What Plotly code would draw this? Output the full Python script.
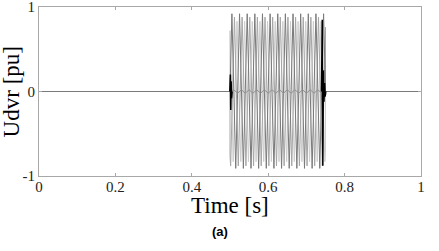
import plotly.graph_objects as go

# Phase A vertices (time [s], value [pu])
tA = [0, 0.5, 0.505, 0.515, 0.525, 0.535, 0.545, 0.555, 0.565, 0.575, 0.585,
      0.595, 0.605, 0.615, 0.625, 0.635, 0.645, 0.655, 0.665, 0.675, 0.685,
      0.695, 0.705, 0.715, 0.725, 0.735, 0.745, 0.75, 1]
vA = [0, 0, 0.92, -0.91, 0.92, -0.91, 0.92, -0.91, 0.92, -0.91, 0.92,
      -0.91, 0.92, -0.91, 0.92, -0.91, 0.92, -0.91, 0.92, -0.91, 0.92,
      -0.91, 0.92, -0.91, 0.92, -0.91, 0.92, 0, 0]

# Phase B vertices
tB = [0, 0.5, 0.5, 0.5017, 0.5117, 0.5217, 0.5317, 0.5417, 0.5517, 0.5617,
      0.5717, 0.5817, 0.5917, 0.6017, 0.6117, 0.6217, 0.6317, 0.6417, 0.6517,
      0.6617, 0.6717, 0.6817, 0.6917, 0.7017, 0.7117, 0.7217, 0.7317, 0.7417,
      0.75, 0.75, 1]
vB = [0, 0, -0.76, -0.88, 0.88, -0.88, 0.88, -0.88, 0.88, -0.88,
      0.88, -0.88, 0.88, -0.88, 0.88, -0.88, 0.88, -0.88, 0.88,
      -0.88, 0.88, -0.88, 0.88, -0.88, 0.88, -0.88, 0.88, -0.88,
      0.76, 0, 0]

# Phase C vertices
tC = [0, 0.5, 0.5, 0.5083, 0.5183, 0.5283, 0.5383, 0.5483, 0.5583, 0.5683,
      0.5783, 0.5883, 0.5983, 0.6083, 0.6183, 0.6283, 0.6383, 0.6483, 0.6583,
      0.6683, 0.6783, 0.6883, 0.6983, 0.7083, 0.7183, 0.7283, 0.7383, 0.7483,
      0.75, 0.75, 1]
vC = [0, 0, 0.72, -0.83, 0.83, -0.83, 0.83, -0.83, 0.83, -0.83,
      0.83, -0.83, 0.83, -0.83, 0.83, -0.83, 0.83, -0.83, 0.83,
      -0.83, 0.83, -0.83, 0.83, -0.83, 0.83, -0.83, 0.83, -0.83,
      -0.72, 0, 0]

# Small ripple around zero during compensation
tR = [0.5, 0.51, 0.52, 0.53, 0.54, 0.55, 0.56, 0.57, 0.58, 0.59, 0.6, 0.61,
      0.62, 0.63, 0.64, 0.65, 0.66, 0.67, 0.68, 0.69, 0.7, 0.71, 0.72, 0.73,
      0.74, 0.75]
vR = [0, 0.02, -0.02, 0.02, -0.02, 0.02, -0.02, 0.02, -0.02, 0.02, -0.02, 0.02,
      -0.02, 0.02, -0.02, 0.02, -0.02, 0.02, -0.02, 0.02, -0.02, 0.02, -0.02, 0.02,
      -0.02, 0]

# Switching transients (black)
tT1 = [0.4995, 0.501, 0.502, 0.503, 0.504, 0.5055]
vT1 = [0, 0.2, -0.22, 0.12, -0.08, 0]
tT2 = [0.7395, 0.7415, 0.743, 0.7445, 0.746, 0.7475, 0.749, 0.751]
vT2 = [0, 0.85, -0.88, 0.25, -0.12, 0.1, -0.06, 0]

x_ticks = [0, 0.2, 0.4, 0.6, 0.8, 1]
x_labels = ["0", "0.2", "0.4", "0.6", "0.8", "1"]
y_ticks = [-1, 0, 1]
y_labels = ["-1", "0", "1"]

fig = go.Figure()
fig.add_trace(go.Scatter(x=tC, y=vC, mode="lines", line=dict(color="#cdcdcd", width=1)))
fig.add_trace(go.Scatter(x=tB, y=vB, mode="lines", line=dict(color="#a6a6a6", width=1)))
fig.add_trace(go.Scatter(x=tA, y=vA, mode="lines", line=dict(color="#7a7a7a", width=1)))
fig.add_trace(go.Scatter(x=tR, y=vR, mode="lines", line=dict(color="#909090", width=1)))
fig.add_trace(go.Scatter(x=tT1, y=vT1, mode="lines", line=dict(color="#000000", width=1.5)))
fig.add_trace(go.Scatter(x=tT2, y=vT2, mode="lines", line=dict(color="#000000", width=1.5)))

serif = "Liberation Serif, Times New Roman, serif"
axis_common = dict(showline=True, mirror="ticks", linecolor="#a8a8a8", linewidth=1,
                   ticks="inside", ticklen=3, tickcolor="#a8a8a8", automargin=False,
                   showgrid=False, zeroline=False, ticklabeloverflow="allow",
                   tickfont=dict(family=serif, size=15, color="#222"))
fig.update_xaxes(range=[0, 1], tickvals=x_ticks, ticktext=x_labels,
                 ticklabelstandoff=-3, **axis_common)
fig.update_yaxes(range=[-1, 1], tickvals=y_ticks, ticktext=y_labels,
                 ticklabelstandoff=0, **axis_common)

fig.add_annotation(text="Udvr [pu]", xref="paper", yref="paper", x=-0.071, y=0.5,
                   textangle=-90, showarrow=False, xanchor="center", yanchor="middle",
                   font=dict(family=serif, size=23, color="#000"))
fig.add_annotation(text="Time [s]", xref="paper", yref="paper", x=0.5, y=-0.1775,
                   showarrow=False, xanchor="center", yanchor="middle",
                   font=dict(family=serif, size=23, color="#000"))
fig.add_annotation(text="<b>(a)</b>", xref="paper", yref="paper", x=0.474, y=-0.33,
                   showarrow=False, xanchor="center", yanchor="middle",
                   font=dict(family="Liberation Sans, Arial, sans-serif", size=13, color="#000"))

fig.update_layout(width=439, height=251, margin=dict(l=39, r=18, t=7, b=75),
                  paper_bgcolor="white", plot_bgcolor="white", showlegend=False)

fig.write_html("out.html", config={"displayModeBar": False},
               post_script="document.body.style.margin='0';")
